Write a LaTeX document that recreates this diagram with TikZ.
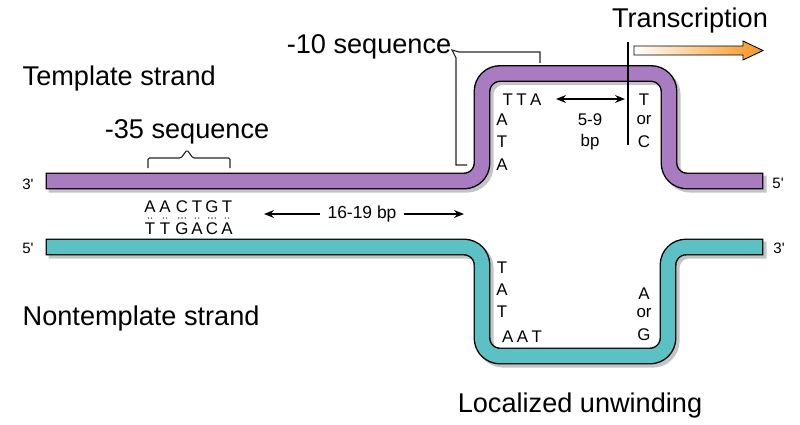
\documentclass[tikz,border=0pt]{standalone}
\usepackage{fontspec}
\setmainfont{Liberation Sans}
\usepackage{tikz}
\usetikzlibrary{positioning, arrows.meta}
\definecolor{tPurple}{HTML}{A97BC0}
\definecolor{nTeal}{HTML}{5BC1C5}
\definecolor{sGray}{HTML}{C4C4C4}
\definecolor{aOrange}{HTML}{F7941E}
\tikzset{
  bigtext/.style={font=\fontsize{19.3}{23}\selectfont, inner sep=1pt},
  basetext/.style={font=\fontsize{12}{14}\selectfont, inner sep=0pt},
  endtext/.style={font=\fontsize{10.7}{12}\selectfont, inner sep=0pt},
  pairdot/.style={fill=black!65, radius=0.85},
}
\tikzset{
  strand/.style={line width=10pt, line cap=rect, rounded corners=0.45cm,
    preaction={draw=sGray, line width=12pt, line cap=rect, transform canvas={xshift=2.2pt, yshift=-2.2pt}},
    preaction={draw=black, line width=12pt, line cap=rect}},
  templatestrand/.style={strand, draw=tPurple},
  codingstrand/.style={strand, draw=nTeal},
  bracketline/.style={draw=black!85, line width=0.8pt},
  bparrow/.style={-{Stealth[length=7pt, width=5.5pt]}, line width=1pt},
  startline/.style={line width=2.1pt},
}
\begin{document}
\begin{tikzpicture}[x=0.025cm, y=-0.025cm]
  \useasboundingbox (0,0) rectangle (800,424);
  % the two strands
  \draw[templatestrand] (54,181) -- (482,181) -- (482,73.5) -- (669,73.5) -- (669,181) -- (755,181);
  \draw[codingstrand] (54,247) -- (482,247) -- (482,356) -- (668,356) -- (668,247) -- (755,247);
  % strand ends
  \node[endtext] (t3) at (28,184) {3\textquotesingle};
  \node[endtext] (n5) at (28,248) {5\textquotesingle};
  \node[endtext] (t5) at (778,183) {5\textquotesingle};
  \node[endtext] (n3) at (779,248) {3\textquotesingle};
  % labels
  \node[bigtext, anchor=west] (tmpl) at (21,78) {Template strand};
  \node[bigtext, anchor=west] (ntmpl) at (21,318) {Nontemplate strand};
  \node[bigtext] (seq35) at (187,132) {-35 sequence};
  \node[bigtext] (seq10) at (369,47) {-10 sequence};
  \node[bigtext] (trans) at (690,20) {Transcription};
  \node[bigtext] (unwind) at (580,405) {Localized unwinding};
  % -35 box
  \draw[bracketline, rounded corners=1pt] (148,168) -- (148,158) -- (181,158) -- (187,150) -- (193,158) -- (230,158) -- (230,168);
  \foreach \x/\up/\dn/\nd [count=\i] in {150/A/T/2, 165/A/T/2, 182/C/G/3, 197/T/A/2, 212/G/C/3, 227/T/A/2} {
    \node[basetext] (up\i) at (\x,207) {\up};
    \node[basetext] (dn\i) at (\x,229) {\dn};
    \foreach \k in {1,...,\nd}
      \fill[pairdot] (\x+3.2*\k-1.6*\nd-1.6,218) circle;
  }
  % spacer between boxes
  \node[font=\fontsize{12.4}{14}\selectfont, inner sep=5pt] (gap) at (362,214) {16-19 bp};
  \coordinate (gapL) at (264,214);
  \coordinate (gapR) at (464,214);
  \draw[bparrow] (gap.west) -- (gapL);
  \draw[bparrow] (gap.east) -- (gapR);
  % -10 box
  \draw[bracketline] (540,63) -- (540,52) -- (459,52) -- (452,50) -- (456,58) -- (456,165) -- (467,165);
  \node[basetext] (tta) at (522,100) {T\hspace{2.5pt}T\hspace{2.5pt}A};
  \foreach \l/\y in {A/120, T/142, A/165}
    \node[basetext] (ta\y) at (502,\y) {\l};
  \node[basetext] (aat) at (522,337) {A\hspace{2.5pt}A\hspace{2.5pt}T};
  \foreach \l/\y in {T/268, A/290, T/312}
    \node[basetext] (nt\y) at (502,\y) {\l};
  % start site
  \coordinate (sp1) at (556,99);
  \coordinate (sp2) at (625,99);
  \draw[bparrow, {Stealth[length=7pt, width=5.5pt]}-{Stealth[length=7pt, width=5.5pt]}] (sp1) -- (sp2);
  \node[basetext] (sp59) at (590,120) {5-9};
  \node[basetext] (spbp) at (590,142) {bp};
  \coordinate (stTop) at (628,42);
  \coordinate (stBot) at (628,145);
  \draw[startline] (stTop) -- (stBot);
  \foreach \l/\y [count=\i] in {T/100, or/120, C/142}
    \node[basetext] (tc\i) at (644,\y) {\l};
  \foreach \l/\y [count=\i] in {A/294, or/313, G/335}
    \node[basetext] (ag\i) at (644,\y) {\l};
  % direction of transcription
  \path[draw=black, line width=0.6pt, left color=white, right color=aOrange, line join=miter]
    (634,46) -- (743,46) -- (743,41) -- (763,50.5) -- (743,60) -- (743,55) -- (634,55) -- cycle;
\end{tikzpicture}
\end{document}
